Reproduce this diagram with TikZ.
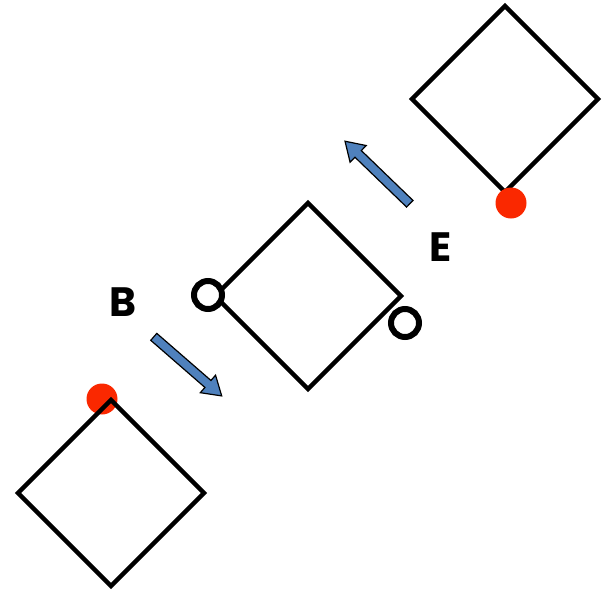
\documentclass[tikz,border=0pt]{standalone}
\usepackage{fontspec}
\setmainfont{Poppins}
\usetikzlibrary{shapes.geometric,shapes.arrows}
\definecolor{arrowblue}{RGB}{79,129,189}
\definecolor{dotred}{RGB}{250,40,0}
\begin{document}
\begin{tikzpicture}[x=1pt, y=-1pt,
	sq/.style = {draw, diamond, line width=4.5pt, minimum width=186pt, minimum height=186pt, inner sep=0, outer sep=0},
	ring/.style = {draw, circle, fill=white, line width=6pt, minimum size=28pt, inner sep=0},
	dot/.style = {circle, fill=dotred, minimum size=31pt, inner sep=0},
	movearrow/.style = {single arrow, draw, fill=arrowblue, line width=1.2pt, minimum height=90pt, inner xsep=0, inner ysep=4pt, single arrow head extend=7pt, single arrow tip angle=65},
	lab/.style = {font=\fontsize{41}{41}\selectfont\bfseries}]
	\useasboundingbox (0,0) rectangle (607,597);
	\node[dot] (d1) at (102,399) {};
	\node[sq] (s1) at (111,493) {};
	\node[sq] (s2) at (308,296) {};
	\node[sq] (s3) at (505,99) {};
	\node[dot] (d3) at (511,203) {};
	\node[ring] (r1) at (208,295) {};
	\node[ring] (r2) at (405,323) {};
	\node[movearrow, rotate=-41] (a1) at (185,364) {};
	\node[movearrow, rotate=136] (a2) at (380,175) {};
	\node[lab] (lB) at (123,302) {B};
	\node[lab] (lE) at (441,247) {E};
\end{tikzpicture}
\end{document}
